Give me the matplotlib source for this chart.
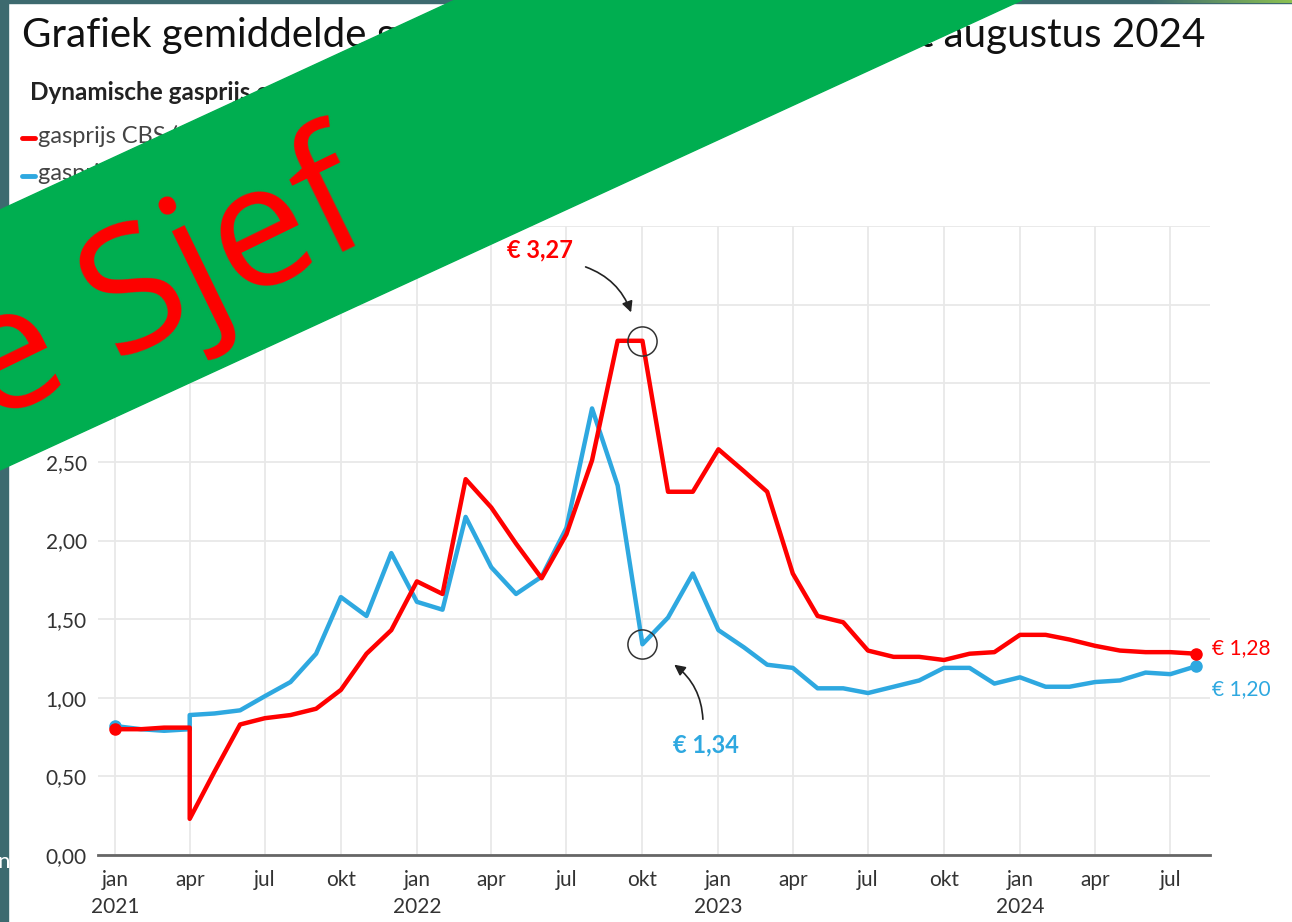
import numpy as np
import pandas as pd
import matplotlib
matplotlib.use("Agg")
import matplotlib.pyplot as plt
from matplotlib.patches import Polygon, Rectangle

# monthly values, jan 2021 .. aug 2024 (euro per m3)
months = pd.date_range("2021-01-01", "2024-08-01", freq="MS")
cbs = [0.80, 0.80, 0.81, 0.23, 0.53, 0.83, 0.87, 0.89, 0.93, 1.05, 1.28, 1.43,
       1.74, 1.66, 2.39, 2.21, 1.98, 1.76, 2.04, 2.51, 3.27, 3.27, 2.31, 2.31,
       2.58, 2.44, 2.31, 1.79, 1.52, 1.48, 1.30, 1.26, 1.26, 1.24, 1.28, 1.29,
       1.40, 1.40, 1.37, 1.33, 1.30, 1.29, 1.29, 1.28]
dyn = [0.82, 0.80, 0.79, 0.89, 0.90, 0.92, 1.01, 1.10, 1.28, 1.64, 1.52, 1.92,
       1.61, 1.56, 2.15, 1.83, 1.66, 1.77, 2.08, 2.84, 2.35, 1.34, 1.51, 1.79,
       1.43, 1.32, 1.21, 1.19, 1.06, 1.06, 1.03, 1.07, 1.11, 1.19, 1.19, 1.09,
       1.13, 1.07, 1.07, 1.10, 1.11, 1.16, 1.15, 1.20]
# value just before the jump on 1 april 2021
cbs_before_apr = 0.81
dyn_before_apr = 0.80

tick_dates = pd.date_range("2021-01-01", "2024-07-01", freq="QS")
tick_labels = ["jan\n2021", "apr", "jul", "okt", "jan\n2022", "apr", "jul", "okt",
               "jan\n2023", "apr", "jul", "okt", "jan\n2024", "apr", "jul"]
y_ticks = [0, 0.5, 1, 1.5, 2, 2.5, 3, 3.5, 4]
y_labels = ["0,00", "0,50", "1,00", "1,50", "2,00", "2,50", "3,00", "3,50", "4,00"]

RED = "#ff0000"
BLUE = "#2ea8e0"
FRAME = "#3d6a6f"
W, H = 1292, 922

plt.rcParams["font.family"] = ["Lato", "DejaVu Sans"]


def fx(x):
    return x / W


def fy(y):
    return 1 - y / H


fig = plt.figure(figsize=(W / 100, H / 100), dpi=100)
fig.patch.set_facecolor("white")

ax = fig.add_axes([fx(98), fy(855), fx(1210) - fx(98), fy(226) - fy(855)])

x_cbs = months.insert(3, months[3])
y_cbs = np.insert(np.array(cbs), 3, cbs_before_apr)
x_dyn = months.insert(3, months[3])
y_dyn = np.insert(np.array(dyn), 3, dyn_before_apr)

ax.plot(x_dyn, y_dyn, color=BLUE, lw=3.2, solid_joinstyle="round", zorder=3)
ax.plot(x_cbs, y_cbs, color=RED, lw=3.2, solid_joinstyle="round", zorder=4)
ax.plot([months[0], months[-1]], [dyn[0], dyn[-1]], "o", color=BLUE, ms=8, zorder=3)
ax.plot([months[0], months[-1]], [cbs[0], cbs[-1]], "o", color=RED, ms=8, zorder=4)

# circles round the highlighted values (oct 2022)
ax.plot(months[21], cbs[21], "o", mfc="none", mec="#333333", mew=1.1, ms=21, zorder=5)
ax.plot(months[21], dyn[21], "o", mfc="none", mec="#333333", mew=1.1, ms=21, zorder=5)

ax.set_ylim(0, 4)
ax.set_xlim(pd.Timestamp("2020-12-11"), pd.Timestamp("2024-08-18"))
ax.set_yticks(y_ticks)
ax.set_yticklabels(y_labels)
ax.set_xticks(tick_dates)
ax.set_xticklabels(tick_labels)
ax.tick_params(length=0, labelsize=15, colors="#333333")
ax.tick_params(axis="x", pad=11)
ax.tick_params(axis="y", pad=8)
for lab in ax.get_xticklabels():
    lab.set_linespacing(1.4)
ax.grid(True, color="#e8e8e8", lw=1.3)
for s in ["top", "right", "left"]:
    ax.spines[s].set_visible(False)
ax.spines["bottom"].set_color("#666666")
ax.spines["bottom"].set_linewidth(2)

# value labels
fig.text(fx(1212), fy(648), "€ 1,28", color=RED, fontsize=15, va="center", ha="left")
fig.text(fx(1212), fy(689), "€ 1,20", color=BLUE, fontsize=15, va="center", ha="left")
fig.text(fx(540), fy(250), "€ 3,27", color=RED, fontsize=17, weight="bold",
         va="center", ha="center")
fig.text(fx(706), fy(745), "€ 1,34", color=BLUE, fontsize=17, weight="bold",
         va="center", ha="center")
fig.add_artist(plt.Annotation("", xy=(fx(632), fy(315)), xytext=(fx(583), fy(266)),
                              xycoords="figure fraction",
                              arrowprops=dict(arrowstyle="-|>", color="#222222", lw=1.2,
                                              mutation_scale=16,
                                              connectionstyle="arc3,rad=-0.25")))
fig.add_artist(plt.Annotation("", xy=(fx(672), fy(663)), xytext=(fx(703), fy(722)),
                              xycoords="figure fraction",
                              arrowprops=dict(arrowstyle="-|>", color="#222222", lw=1.2,
                                              mutation_scale=16,
                                              connectionstyle="arc3,rad=0.25")))

# title (middle part lies under the banner), subtitle, legend
fig.text(fx(22), fy(36), "Grafiek gemiddelde gasprijs",
         fontsize=29, color="#111111", va="center", ha="left")
fig.text(fx(1205), fy(36), "van januari 2021 tot augustus 2024",
         fontsize=29, color="#111111", va="center", ha="right")
fig.text(fx(30), fy(92), "Dynamische gasprijs en gasprijs CBS in euro per m³",
         fontsize=17.5, weight="bold", color="#222222", va="center", ha="left")
fig.add_artist(plt.Line2D([fx(22), fx(35)], [fy(138), fy(138)], color=RED, lw=3.5,
                          solid_capstyle="round"))
fig.text(fx(38), fy(136), "gasprijs CBS (vast en variabel)", fontsize=17, color="#444444",
         va="center", ha="left")
fig.add_artist(plt.Line2D([fx(22), fx(35)], [fy(176), fy(176)], color=BLUE, lw=3.5,
                          solid_capstyle="round"))
fig.text(fx(38), fy(174), "gasprijs dynamisch contract", fontsize=17, color="#444444",
         va="center", ha="left")

# slide frame behind the chart
fig.add_artist(Rectangle((0, 0), fx(8), 1, transform=fig.transFigure,
                         color=FRAME, zorder=20))
fig.add_artist(Rectangle((0, fy(3)), 1, 3 / H, transform=fig.transFigure,
                         color=FRAME, zorder=20))
gax = fig.add_axes([fx(1150), fy(3), fx(142), 3 / H], zorder=21)
gax.imshow(np.linspace(0, 1, 100)[None, :], aspect="auto",
           cmap=matplotlib.colors.LinearSegmentedColormap.from_list("g", [FRAME, "#8cc152"]))
gax.set_axis_off()
fig.text(fx(-3), fy(862), "n", fontsize=16, color="white", va="center", ha="left", zorder=21)

# green banner
band = Polygon([(fx(0), fy(210)), (fx(455), fy(0)), (fx(1022), fy(0)), (fx(0), fy(470))],
               closed=True, transform=fig.transFigure, color="#00ae50", zorder=30)
fig.add_artist(band)
fig.text(fx(378), fy(234), "Ome Sjef", family="Open Sans", fontsize=124, color="#ff0000",
         rotation=26, rotation_mode="anchor", ha="right", va="baseline", zorder=31)

fig.savefig("out.png", dpi=100)
